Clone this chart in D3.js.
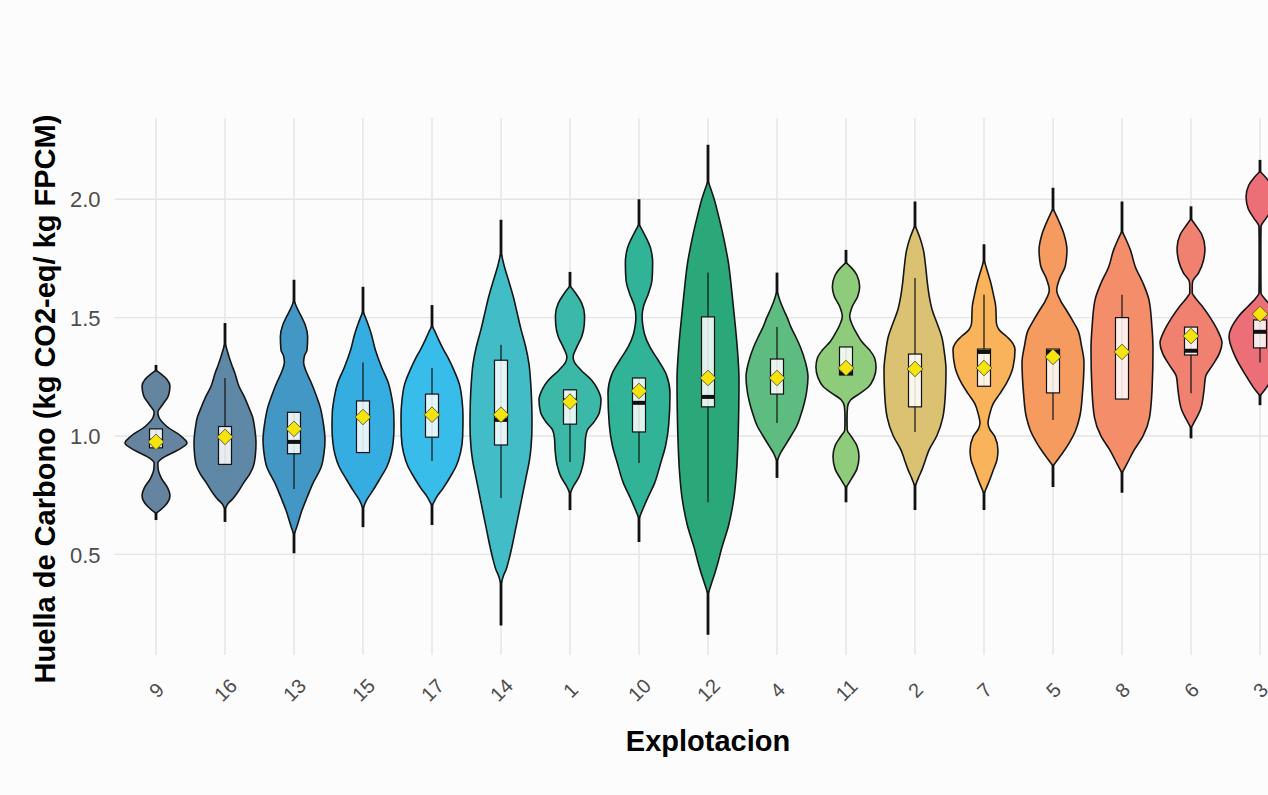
<!DOCTYPE html>
<html>
<head>
<meta charset="utf-8">
<script src="https://cdn.jsdelivr.net/npm/d3@7"></script>
<style>
  html, body { margin: 0; padding: 0; background: #fcfcfc; }
  svg { display: block; }
</style>
</head>
<body>
<svg id="chart" width="1268" height="795"></svg>
<script>
// ---------- DATA ----------
const farms = ["9","16","13","15","17","14","1","10","12","4","11","2","7","5","8","6","3"];

const fillColors = ["#6484a0","#5f87a6","#4297c4","#35ade0","#38bdea","#42bcc6","#3cb8a8","#30b396",
                    "#2ba87a","#5fbc80","#8ecb7a","#dbc273","#f8b35b","#f59b60","#f48e6a","#f08070","#ec6f78"];

const yTicks = [0.5, 1.0, 1.5, 2.0];

// full range of the data (thick line)
const dataMin = [0.645,0.637,0.505,0.615,0.624,0.20,0.687,0.552,0.16,0.823,0.72,0.687,0.687,0.785,0.76,0.99,1.13];
const dataMax = [1.30,1.477,1.66,1.63,1.553,1.913,1.693,2.00,2.23,1.69,1.786,1.99,1.81,2.048,1.99,1.97,2.166];

// box plot statistics
const whiskerLo = [0.95,0.88,0.776,0.93,0.894,0.738,0.89,0.886,0.72,1.055,1.258,1.017,1.21,1.068,1.156,1.18,1.31];
const q1        = [0.95,0.88,0.925,0.93,0.995,0.962,1.05,1.017,1.123,1.177,1.258,1.123,1.21,1.182,1.156,1.342,1.372];
const median    = [0.98,1.0,0.975,1.08,1.09,1.068,1.15,1.14,1.165,1.245,1.265,1.28,1.355,1.355,1.355,1.36,1.44];
const q3        = [1.03,1.04,1.10,1.148,1.177,1.32,1.195,1.245,1.503,1.325,1.376,1.346,1.367,1.367,1.5,1.46,1.49];
const whiskerHi = [1.03,1.245,1.10,1.31,1.287,1.385,1.195,1.245,1.69,1.46,1.376,1.667,1.596,1.367,1.596,1.46,1.49];
const means     = [0.975,0.996,1.03,1.08,1.09,1.09,1.145,1.19,1.245,1.245,1.287,1.283,1.287,1.334,1.355,1.422,1.515];

// violin density profiles: [value, relative density (1 = widest)]
const violin9  = [[0.675,0.02],[0.70,0.25],[0.73,0.42],[0.75,0.45],[0.78,0.38],[0.82,0.18],[0.86,0.07],[0.885,0.06],[0.91,0.25],[0.94,0.7],[0.97,1.0],[1.00,0.8],[1.04,0.35],[1.08,0.09],[1.10,0.06],[1.13,0.2],[1.17,0.4],[1.21,0.45],[1.24,0.35],[1.26,0.18],[1.275,0.03]];
const violin16 = [[0.696,0.02],[0.715,0.1],[0.73,0.22],[0.76,0.4],[0.80,0.59],[0.84,0.8],[0.87,0.91],[0.92,0.98],[0.97,1.0],[1.03,0.96],[1.08,0.89],[1.12,0.77],[1.166,0.62],[1.21,0.45],[1.265,0.32],[1.30,0.22],[1.335,0.13],[1.365,0.06],[1.384,0.02]];
const violin13 = [[0.59,0.02],[0.62,0.1],[0.687,0.26],[0.74,0.42],[0.80,0.61],[0.87,0.88],[0.93,0.97],[0.983,1.0],[1.05,0.95],[1.124,0.84],[1.17,0.72],[1.224,0.56],[1.27,0.4],[1.31,0.31],[1.34,0.34],[1.363,0.42],[1.42,0.44],[1.47,0.36],[1.504,0.24],[1.54,0.1],[1.566,0.02]];
const violin15 = [[0.70,0.02],[0.73,0.12],[0.77,0.32],[0.82,0.55],[0.87,0.77],[0.92,0.9],[0.97,0.97],[1.04,1.0],[1.10,0.99],[1.16,0.93],[1.223,0.82],[1.29,0.6],[1.363,0.4],[1.434,0.26],[1.48,0.14],[1.52,0.02]];
const violin17 = [[0.71,0.02],[0.74,0.14],[0.78,0.36],[0.83,0.6],[0.87,0.77],[0.93,0.92],[1.0,0.99],[1.08,1.0],[1.15,0.97],[1.22,0.88],[1.28,0.7],[1.33,0.52],[1.363,0.38],[1.41,0.2],[1.44,0.1],[1.46,0.02]];
const violin14 = [[0.383,0.02],[0.41,0.08],[0.434,0.16],[0.48,0.26],[0.53,0.35],[0.60,0.46],[0.67,0.57],[0.742,0.68],[0.82,0.8],[0.90,0.92],[0.955,0.97],[1.05,1.0],[1.14,0.99],[1.22,0.96],[1.307,0.9],[1.38,0.79],[1.448,0.65],[1.52,0.52],[1.587,0.4],[1.659,0.24],[1.72,0.1],[1.765,0.02]];
const violin1  = [[0.763,0.02],[0.79,0.12],[0.827,0.29],[0.88,0.42],[0.94,0.48],[0.99,0.5],[1.025,0.56],[1.06,0.78],[1.10,0.95],[1.152,1.0],[1.20,0.88],[1.235,0.7],[1.279,0.35],[1.31,0.15],[1.335,0.1],[1.37,0.2],[1.42,0.38],[1.47,0.46],[1.51,0.47],[1.56,0.38],[1.60,0.2],[1.63,0.02]];
const violin10 = [[0.658,0.02],[0.69,0.12],[0.744,0.3],[0.80,0.5],[0.886,0.7],[0.96,0.86],[1.05,0.96],[1.18,1.0],[1.26,0.88],[1.32,0.62],[1.376,0.35],[1.43,0.18],[1.47,0.12],[1.503,0.1],[1.55,0.15],[1.60,0.3],[1.66,0.42],[1.73,0.44],[1.79,0.38],[1.84,0.22],[1.87,0.1],[1.89,0.02]];
const violin12 = [[0.34,0.02],[0.38,0.12],[0.42,0.22],[0.47,0.33],[0.53,0.45],[0.62,0.66],[0.742,0.84],[0.85,0.92],[0.955,0.96],[1.10,0.99],[1.237,1.0],[1.38,0.94],[1.518,0.84],[1.62,0.76],[1.73,0.66],[1.84,0.5],[1.94,0.32],[2.00,0.2],[2.04,0.1],[2.07,0.02]];
const violin4  = [[0.90,0.02],[0.93,0.12],[0.955,0.24],[1.0,0.45],[1.04,0.63],[1.09,0.77],[1.138,0.88],[1.19,0.96],[1.25,1.0],[1.31,0.92],[1.377,0.75],[1.42,0.6],[1.46,0.45],[1.50,0.33],[1.532,0.22],[1.57,0.1],[1.604,0.02]];
const violin11 = [[0.786,0.02],[0.82,0.18],[0.86,0.35],[0.913,0.42],[0.96,0.35],[1.0,0.16],[1.025,0.04],[1.07,0.03],[1.124,0.05],[1.152,0.15],[1.18,0.45],[1.208,0.73],[1.245,0.9],[1.29,0.97],[1.33,0.92],[1.363,0.76],[1.40,0.5],[1.434,0.34],[1.47,0.2],[1.504,0.12],[1.546,0.2],[1.59,0.38],[1.63,0.44],[1.68,0.35],[1.71,0.18],[1.73,0.02]];
const violin2  = [[0.793,0.02],[0.82,0.1],[0.856,0.22],[0.90,0.34],[0.94,0.45],[1.0,0.7],[1.08,0.9],[1.18,0.98],[1.28,1.0],[1.35,0.95],[1.42,0.86],[1.48,0.7],[1.53,0.56],[1.59,0.46],[1.646,0.4],[1.72,0.34],[1.786,0.27],[1.84,0.15],[1.883,0.02]];
const violin7  = [[0.763,0.02],[0.80,0.14],[0.856,0.3],[0.90,0.42],[0.94,0.45],[0.997,0.35],[1.03,0.18],[1.055,0.13],[1.09,0.18],[1.138,0.3],[1.18,0.52],[1.224,0.73],[1.293,0.94],[1.363,1.0],[1.40,0.88],[1.42,0.73],[1.45,0.48],[1.477,0.4],[1.545,0.38],[1.60,0.3],[1.646,0.22],[1.70,0.1],[1.735,0.02]];
const violin5  = [[0.877,0.02],[0.90,0.15],[0.93,0.32],[0.97,0.52],[1.02,0.72],[1.08,0.86],[1.18,0.95],[1.31,1.0],[1.38,0.92],[1.448,0.8],[1.49,0.62],[1.532,0.43],[1.57,0.25],[1.617,0.12],[1.66,0.2],[1.72,0.4],[1.786,0.45],[1.85,0.36],[1.91,0.18],[1.955,0.02]];
const violin8  = [[0.848,0.02],[0.88,0.15],[0.94,0.39],[1.0,0.68],[1.08,0.89],[1.20,0.97],[1.363,1.0],[1.47,0.96],[1.575,0.87],[1.645,0.68],[1.714,0.43],[1.786,0.27],[1.83,0.13],[1.86,0.02]];
const violin6  = [[1.038,0.02],[1.07,0.15],[1.11,0.3],[1.194,0.42],[1.25,0.47],[1.30,0.7],[1.35,0.92],[1.393,1.0],[1.44,0.88],[1.50,0.62],[1.55,0.35],[1.59,0.1],[1.604,0.04],[1.63,0.04],[1.65,0.05],[1.69,0.25],[1.74,0.4],[1.794,0.45],[1.85,0.35],[1.89,0.15],[1.913,0.02]];
const violin3  = [[1.173,0.02],[1.194,0.15],[1.25,0.43],[1.335,0.8],[1.42,1.0],[1.504,0.7],[1.546,0.4],[1.58,0.15],[1.604,0.03],[1.70,0.02],[1.80,0.02],[1.883,0.03],[1.92,0.2],[1.96,0.38],[2.01,0.45],[2.06,0.36],[2.09,0.2],[2.115,0.02]];

const violins = [violin9,violin16,violin13,violin15,violin17,violin14,violin1,violin10,violin12,
                 violin4,violin11,violin2,violin7,violin5,violin8,violin6,violin3];

// ---------- DRAWING ----------
const svg = d3.select("#chart");
const W = 1268, H = 795;
const panel = {left: 114.6, right: 1301.4, top: 118, bottom: 655};

svg.append("rect").attr("width", W).attr("height", H).attr("fill", "#fcfcfc");

const x = d3.scalePoint().domain(farms).range([panel.left, panel.right]).padding(0.6);
const y = d3.scaleLinear().domain([0.075, 2.343]).range([panel.bottom, panel.top]);
const wScale = d3.scaleLinear().domain([0, 1]).range([0, 31]);
const boxHalf = 6.5;

// grid
const grid = svg.append("g");
grid.selectAll("line.h").data(yTicks).join("line")
  .attr("x1", panel.left).attr("x2", panel.right)
  .attr("y1", d => y(d)).attr("y2", d => y(d))
  .attr("stroke", "#e4e4e4").attr("stroke-width", 1.4);
grid.selectAll("line.v").data(farms).join("line")
  .attr("x1", d => x(d)).attr("x2", d => x(d))
  .attr("y1", panel.top).attr("y2", panel.bottom)
  .attr("stroke", "#e4e4e4").attr("stroke-width", 1.4);

// axes (text only, like ggplot theme_minimal)
const yAxis = svg.append("g").attr("transform", `translate(${panel.left - 14},0)`)
  .call(d3.axisLeft(y).tickValues(yTicks).tickFormat(d3.format(".1f")).tickSize(0).tickPadding(0));
yAxis.select(".domain").remove();
yAxis.selectAll("text").attr("font-family", "Liberation Sans, Arial, sans-serif")
  .attr("font-size", 22).attr("fill", "#4d4d4d").attr("dy", "0.35em");

const xAxis = svg.append("g").attr("transform", `translate(0,${panel.bottom})`)
  .call(d3.axisBottom(x).tickSize(0).tickPadding(0));
xAxis.select(".domain").remove();
xAxis.selectAll("text")
  .attr("font-family", "Liberation Sans, Arial, sans-serif")
  .attr("font-size", 20).attr("fill", "#4d4d4d")
  .attr("text-anchor", "middle").attr("dy", null).attr("y", 0)
  .attr("dominant-baseline", "central")
  .attr("transform", "translate(0,35) rotate(-45)");

// violins
const area = d3.area()
  .y(d => y(d[0]))
  .x0(d => -wScale(d[1]))
  .x1(d => wScale(d[1]))
  .curve(d3.curveMonotoneY);

farms.forEach((f, i) => {
  const g = svg.append("g").attr("transform", `translate(${x(f)},0)`);
  // full range line
  g.append("line").attr("x1", 0).attr("x2", 0)
    .attr("y1", y(dataMin[i])).attr("y2", y(dataMax[i]))
    .attr("stroke", "#111").attr("stroke-width", 2.8);
  // violin
  g.append("path").datum(violins[i]).attr("d", area)
    .attr("fill", fillColors[i]).attr("stroke", "#161616").attr("stroke-width", 1.6)
    .attr("stroke-linejoin", "round");
  // whiskers
  g.append("line").attr("x1", 0).attr("x2", 0)
    .attr("y1", y(whiskerLo[i])).attr("y2", y(whiskerHi[i]))
    .attr("stroke", "#111").attr("stroke-width", 1.2);
  // box
  g.append("rect").attr("x", -boxHalf).attr("width", boxHalf * 2)
    .attr("y", y(q3[i])).attr("height", y(q1[i]) - y(q3[i]))
    .attr("fill", "#ffffff").attr("fill-opacity", 0.85)
    .attr("stroke", "#111").attr("stroke-width", 1.2);
  // median
  g.append("line").attr("x1", -boxHalf).attr("x2", boxHalf)
    .attr("y1", y(median[i])).attr("y2", y(median[i]))
    .attr("stroke", "#111").attr("stroke-width", 4);
  // mean diamond
  g.append("path")
    .attr("d", d3.symbol(d3.symbolSquare, 122)())
    .attr("transform", `translate(0,${y(means[i])}) rotate(45)`)
    .attr("fill", "#f6e40c").attr("stroke", "#5a5a3a").attr("stroke-width", 0.9);
});

// titles
svg.append("text")
  .attr("transform", "translate(45,399) rotate(-90)")
  .attr("text-anchor", "middle").attr("dominant-baseline", "central")
  .attr("font-family", "Liberation Sans, Arial, sans-serif")
  .attr("font-weight", "bold").attr("font-size", 29).attr("fill", "#000")
  .text("Huella de Carbono (kg CO2-eq/ kg FPCM)");

svg.append("text")
  .attr("x", 708).attr("y", 751)
  .attr("text-anchor", "middle")
  .attr("font-family", "Liberation Sans, Arial, sans-serif")
  .attr("font-weight", "bold").attr("font-size", 29).attr("fill", "#000")
  .text("Explotacion");
</script>
</body>
</html>
